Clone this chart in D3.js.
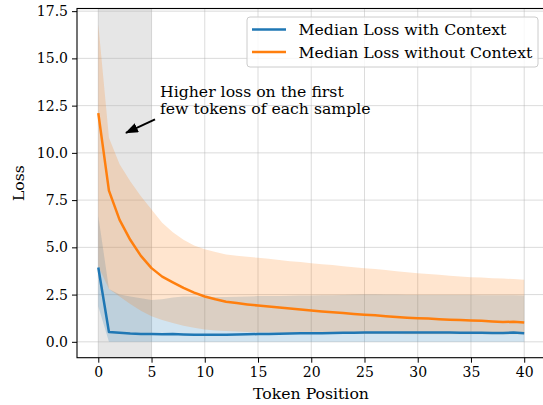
<!DOCTYPE html>
<html>
<head>
<meta charset="utf-8">
<script src="https://cdn.jsdelivr.net/npm/d3@7"></script>
<style>
  body { margin: 0; background: #fff; }
  svg { display: block; font-family: "DejaVu Serif", serif; }
</style>
</head>
<body>
<div id="chart"></div>
<script>
// token positions 0..40
const positions = d3.range(0, 41);

// median loss with context (blue)
const withCtxMedian = [3.93, 0.52, 0.48, 0.44, 0.42, 0.41, 0.40, 0.41, 0.39, 0.38,
  0.37, 0.37, 0.38, 0.39, 0.40, 0.41, 0.42, 0.43, 0.44, 0.45,
  0.46, 0.46, 0.47, 0.48, 0.48, 0.49, 0.49, 0.49, 0.49, 0.49,
  0.49, 0.49, 0.49, 0.49, 0.48, 0.48, 0.48, 0.47, 0.47, 0.49, 0.46];
const withCtxLow = [1.87, 0.0, 0.0, 0.0, 0.0, 0.0, 0.0, 0.0, 0.0, 0.0,
  0.0, 0.0, 0.0, 0.0, 0.0, 0.0, 0.0, 0.0, 0.0, 0.0,
  0.0, 0.0, 0.0, 0.0, 0.0, 0.0, 0.0, 0.0, 0.0, 0.0,
  0.0, 0.0, 0.0, 0.0, 0.0, 0.0, 0.0, 0.0, 0.0, 0.0, 0.0];
const withCtxHigh = [6.66, 2.80, 2.50, 2.40, 2.30, 2.22, 2.25, 2.35, 2.40, 2.40,
  2.38, 2.37, 2.37, 2.38, 2.40, 2.42, 2.43, 2.43, 2.44, 2.45,
  2.45, 2.46, 2.47, 2.48, 2.49, 2.50, 2.50, 2.49, 2.49, 2.48,
  2.48, 2.48, 2.48, 2.48, 2.48, 2.48, 2.47, 2.47, 2.46, 2.46, 2.45];

// median loss without context (orange)
const noCtxMedian = [12.1, 8.0, 6.45, 5.4, 4.55, 3.9, 3.45, 3.15, 2.85, 2.6,
  2.4, 2.25, 2.12, 2.05, 1.98, 1.92, 1.87, 1.82, 1.76, 1.71,
  1.66, 1.61, 1.57, 1.52, 1.47, 1.43, 1.40, 1.36, 1.32, 1.28,
  1.25, 1.23, 1.20, 1.17, 1.15, 1.13, 1.11, 1.08, 1.05, 1.06, 1.02];
const noCtxLow = [4.0, 2.80, 2.40, 2.00, 1.65, 1.35, 1.15, 1.00, 0.85, 0.74,
  0.65, 0.60, 0.57, 0.54, 0.52, 0.50, 0.49, 0.48, 0.47, 0.46,
  0.45, 0.44, 0.44, 0.43, 0.43, 0.42, 0.42, 0.41, 0.41, 0.40,
  0.40, 0.40, 0.40, 0.40, 0.40, 0.40, 0.40, 0.40, 0.40, 0.40, 0.40];
const noCtxHigh = [16.8, 10.8, 9.4, 8.5, 7.7, 7.0, 6.3, 5.8, 5.4, 5.1,
  4.9, 4.75, 4.62, 4.55, 4.5, 4.45, 4.4, 4.33, 4.27, 4.22,
  4.16, 4.11, 4.06, 4.0, 3.95, 3.9, 3.85, 3.8, 3.74, 3.68,
  3.63, 3.59, 3.55, 3.5, 3.46, 3.42, 3.4, 3.37, 3.35, 3.32, 3.28];

const xTicks = [0, 5, 10, 15, 20, 25, 30, 35, 40];
const yTicks = [0, 2.5, 5, 7.5, 10, 12.5, 15, 17.5];
const highlightSpan = [0, 5];
const seriesNames = ["Median Loss with Context", "Median Loss without Context"];
const annotationLines = ["Higher loss on the first", "few tokens of each sample"];
const annotationTarget = [2.6, 11.06];

const width = 543, height = 405;
const margin = { top: 8.5, right: -2.5, bottom: 47.3, left: 77 };

const svg = d3.select("#chart").append("svg")
  .attr("width", width)
  .attr("height", height);

const xScale = d3.scaleLinear().domain([-2, 42]).range([margin.left, width - margin.right]);
const yScale = d3.scaleLinear().domain([-0.84, 17.64]).range([height - margin.bottom, margin.top]);

const plotW = width - margin.right - margin.left;
const plotH = height - margin.bottom - margin.top;

svg.append("clipPath").attr("id", "plotclip")
  .append("rect")
  .attr("x", margin.left).attr("y", margin.top)
  .attr("width", plotW).attr("height", plotH);

const plot = svg.append("g").attr("clip-path", "url(#plotclip)");

// shaded first-tokens region
plot.append("rect")
  .attr("x", xScale(highlightSpan[0]))
  .attr("y", margin.top)
  .attr("width", xScale(highlightSpan[1]) - xScale(highlightSpan[0]))
  .attr("height", plotH)
  .attr("fill", "gray")
  .attr("fill-opacity", 0.2);

// grid
plot.append("g").selectAll("line").data(xTicks).join("line")
  .attr("x1", d => xScale(d)).attr("x2", d => xScale(d))
  .attr("y1", margin.top).attr("y2", height - margin.bottom)
  .attr("stroke", "#b0b0b0").attr("stroke-opacity", 0.45).attr("stroke-width", 1);
plot.append("g").selectAll("line").data(yTicks).join("line")
  .attr("y1", d => yScale(d)).attr("y2", d => yScale(d))
  .attr("x1", margin.left).attr("x2", width - margin.right)
  .attr("stroke", "#b0b0b0").attr("stroke-opacity", 0.45).attr("stroke-width", 1);

const blue = "#1f77b4", orange = "#ff7f0e";

const area = (lo, hi) => d3.area()
  .x((d, i) => xScale(positions[i]))
  .y0((d, i) => yScale(lo[i]))
  .y1((d, i) => yScale(hi[i]));

const line = (vals) => d3.line()
  .x((d, i) => xScale(positions[i]))
  .y((d, i) => yScale(vals[i]));

plot.append("path")
  .attr("d", area(withCtxLow, withCtxHigh)(positions))
  .attr("fill", blue).attr("fill-opacity", 0.2);
plot.append("path")
  .attr("d", area(noCtxLow, noCtxHigh)(positions))
  .attr("fill", orange).attr("fill-opacity", 0.2);

plot.append("path")
  .attr("d", line(withCtxMedian)(positions))
  .attr("fill", "none").attr("stroke", blue).attr("stroke-width", 2.5)
  .attr("stroke-linejoin", "round");
plot.append("path")
  .attr("d", line(noCtxMedian)(positions))
  .attr("fill", "none").attr("stroke", orange).attr("stroke-width", 2.5)
  .attr("stroke-linejoin", "round");

// axes
const xAxis = d3.axisBottom(xScale).tickValues(xTicks).tickSize(5).tickPadding(4)
  .tickFormat(d3.format("d"));
svg.append("g").classed("xAxis", true)
  .attr("transform", `translate(0,${height - margin.bottom})`)
  .call(xAxis);

const yAxis = d3.axisLeft(yScale).tickValues(yTicks).tickSize(5).tickPadding(4)
  .tickFormat(d3.format(".1f"));
svg.append("g").classed("yAxis", true)
  .attr("transform", `translate(${margin.left},0)`)
  .call(yAxis);

svg.selectAll(".xAxis .domain, .yAxis .domain").remove();
svg.selectAll(".tick line").attr("stroke", "#000").attr("stroke-width", 1);
svg.selectAll(".tick text")
  .style("font-family", "DejaVu Serif, serif")
  .style("font-size", "14px")
  .attr("fill", "#000");

// spines
svg.append("rect")
  .attr("x", margin.left).attr("y", margin.top)
  .attr("width", plotW).attr("height", plotH)
  .attr("fill", "none").attr("stroke", "#000").attr("stroke-width", 1.1);

// axis labels
svg.append("text")
  .attr("x", 311)
  .attr("y", 399)
  .attr("text-anchor", "middle")
  .style("font-size", "15.7px")
  .text("Token Position");

svg.append("text")
  .attr("transform", `translate(24,${(margin.top + height - margin.bottom) / 2}) rotate(-90)`)
  .attr("text-anchor", "middle")
  .style("font-size", "15.7px")
  .text("Loss");

// annotation
const ann = svg.append("text")
  .attr("x", 160)
  .attr("y", 96.7)
  .style("font-size", "15.7px");
ann.selectAll("tspan").data(annotationLines).join("tspan")
  .attr("x", 160)
  .attr("dy", (d, i) => i === 0 ? 0 : 17.6)
  .text(d => d);

// arrow
svg.append("defs").append("marker")
  .attr("id", "arrowhead")
  .attr("viewBox", "0 0 13 10")
  .attr("refX", 12).attr("refY", 5)
  .attr("markerWidth", 13).attr("markerHeight", 10)
  .attr("markerUnits", "userSpaceOnUse")
  .attr("orient", "auto")
  .append("path")
  .attr("d", "M0,0 L13,5 L0,10 z")
  .attr("fill", "#000");

svg.append("line")
  .attr("x1", 155).attr("y1", 119.3)
  .attr("x2", xScale(annotationTarget[0]))
  .attr("y2", yScale(annotationTarget[1]))
  .attr("stroke", "#000").attr("stroke-width", 2)
  .attr("marker-end", "url(#arrowhead)");

// legend
const legend = svg.append("g").attr("transform", "translate(247,17)");
legend.append("rect")
  .attr("width", 291).attr("height", 50)
  .attr("rx", 3)
  .attr("fill", "#fff").attr("fill-opacity", 0.8)
  .attr("stroke", "#ccc").attr("stroke-width", 1);
const items = legend.selectAll("g.item").data(seriesNames).join("g")
  .attr("class", "item")
  .attr("transform", (d, i) => `translate(0,${12.5 + i * 22.5})`);
items.append("line")
  .attr("x1", 5).attr("x2", 39)
  .attr("stroke", (d, i) => i === 0 ? blue : orange)
  .attr("stroke-width", 2.5);
items.append("text")
  .attr("x", 51.5).attr("y", 5.5)
  .style("font-size", "15.7px")
  .text(d => d);
</script>
</body>
</html>
